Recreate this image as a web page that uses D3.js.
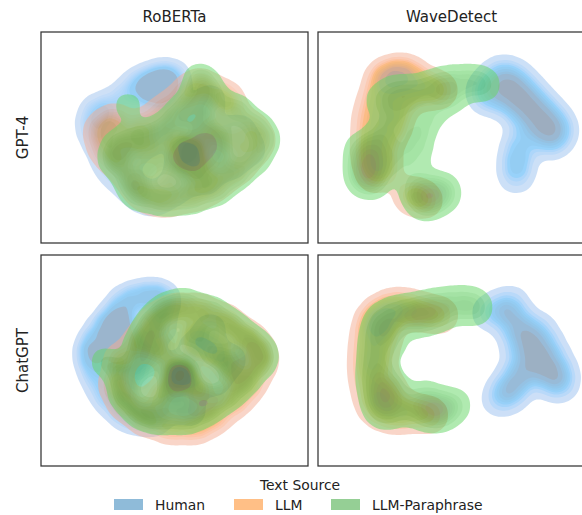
<!DOCTYPE html>
<html>
<head>
<meta charset="utf-8">
<script src="https://cdn.jsdelivr.net/npm/d3@7"></script>
<style>
  body { margin: 0; background: #fff; }
  svg { font-family: "DejaVu Sans", sans-serif; }
</style>
</head>
<body>
<div id="chart"></div>
<script>
// categories
const sources = ["Human", "LLM", "LLM-Paraphrase"];
const sourceColors = ["#1f77b4", "#ff7f0e", "#2ca02c"];
const detectors = ["RoBERTa", "WaveDetect"];
const generators = ["GPT-4", "ChatGPT"];

// 2-d embedding samples [x, y, weight]
const gpt4RobertaHuman = [[51,115],[54,131],[67,135],[84,148],[99,161],[119,168],[134,165],[109,153,2],[124,158,2],[124,143],
  [59,98],[67,78],[81,63],[97,48],[114,43],[79,113],[99,123],[109,103],[89,88],[129,118],[149,93,2],[139,73],[159,123],
  [169,143],[179,103],[199,113],[189,78],[134,53],[164,63],[209,93]];
const gpt4RobertaLLM = [[59,113],[64,93],[74,123],[79,78],[94,58],[109,45],[129,43],[154,48],[174,58],[194,73],[209,88,0.8],
  [219,103,0.8],[209,118,0.8],[189,138],[179,148],[159,158],[144,148],[124,133],[104,118],[89,103],[109,93],[134,103],[149,90,2],
  [169,113],[159,73],[189,103],[129,68]];
const gpt4RobertaPara = [[159,163],[169,148],[149,138],[134,123],[119,108],[194,133],[214,118,0.8],[224,103,0.8],[214,83,0.8],[194,68],
  [174,53],[149,45],[124,43],[99,48],[89,63],[74,83],[79,98],[99,103],[109,78],[134,83],[149,90,2.5],[164,103],[179,103],
  [174,83],[154,68],[159,123],[87,137,0.6]];

const gpt4WaveHuman = [[175,165],[185,171],[190,157,1.5],[200,147,1.5],[210,137,1.5],[220,126,1.5],[230,115,1.5],[238,105],
  [197,167],[207,157],[217,146],[227,135],[237,125],[244,113],[180,151],[190,140],[200,130],[212,118],[224,106],[232,97,0.6],
  [164,153],[170,143],[202,103],[200,91],[199,78,1.5],[198,65],[134,45,0.25]];
const gpt4WaveLLM = [[67,163,2],[82,168,2],[97,165],[57,143],[52,123],[52,103],[52,85],[57,68],[72,133],[87,143],[107,153],
  [122,153],[67,103],[77,118],[92,48],[107,43],[67,78]];
const gpt4WavePara = [[45,70,2],[52,83,2],[57,98,1.5],[67,113],[77,128],[87,143],[97,151],[112,155],[127,158,1.5],[142,161],
  [157,161],[167,158],[62,143],[77,153],[41,93],[50,61],[57,63],[72,78],[82,93],[97,113],[112,128],[132,143],[102,103,0.6],
  [100,88,0.5],[100,75,0.4],[102,48],[114,46,1.5],[127,48],[107,38],[122,55],[97,55]];

const chatRobertaHuman = [[51,111,1.5],[54,126],[64,141],[79,161],[94,169],[112,171],[124,166],[79,141,2],[84,121,2],[79,106,1.5],
  [54,91],[64,71],[79,56],[94,48],[114,46],[99,86],[109,111],[119,141],[139,91,2],[129,66],[154,116],[169,136],[174,86],
  [189,106],[149,56]];
const chatRobertaLLM = [[79,106],[74,81],[84,61],[104,46],[129,38],[154,38],[174,48],[194,64],[209,81],[221,101,0.8],[219,118,0.8],
  [204,131],[184,146],[159,156],[134,156],[114,146],[99,126],[119,116],[139,91,2],[154,126,1.5],[174,116,1.5],[159,76],
  [189,96],[119,71]];
const chatRobertaPara = [[64,104,0.7],[84,91],[84,71],[99,54],[119,48],[144,48],[164,56],[184,69],[201,84],[217,101,0.8],[221,114,0.8],
  [207,126],[189,141],[169,154],[144,161],[124,156],[109,141],[99,121],[104,101],[139,91,2.5],[124,121],[154,131],[174,111],
  [159,71],[129,71],[194,101]];

const chatWaveHuman = [[182,156],[194,153],[202,141,1.3],[210,128,1.3],[217,116,1.3],[224,104,1.3],[230,92,1.3],[237,81],
  [220,138],[228,124],[235,110],[242,96],[244,84],[192,136,0.7],[200,121],[207,106],[214,94],[197,94],[187,76,1.3],[182,66],
  [197,74],[202,86],[170,153],[193,163],[145,56,0.25]];
const chatWaveLLM = [[59,146,2],[72,156,1.5],[87,158],[102,154],[122,151],[51,131],[49,111],[49,91],[53,71],[60,56],[77,51],
  [92,54],[67,131],[62,106],[72,76],[112,51]];
const chatWavePara = [[62,146],[77,154],[92,151,1.5],[107,156,1.5],[122,160],[137,163],[152,161],[158,158],[56,126],[55,106],
  [56,86,1.5],[60,66,1.5],[67,54,1.5],[82,61],[97,56],[112,56,1.5],[127,58],[137,61],[67,136],[77,126,0.7],[67,106,0.7],
  [72,78,2],[119,53,1.5],[102,146],[122,151],[107,71]];

const panels = [
  { row: 0, col: 0, series: [gpt4RobertaHuman, gpt4RobertaLLM, gpt4RobertaPara] },
  { row: 0, col: 1, series: [gpt4WaveHuman, gpt4WaveLLM, gpt4WavePara] },
  { row: 1, col: 0, series: [chatRobertaHuman, chatRobertaLLM, chatRobertaPara] },
  { row: 1, col: 1, series: [chatWaveHuman, chatWaveLLM, chatWavePara] }
];

// ---- HUSL helpers (seaborn builds its fill colormaps in this space) ----
const M = [[3.240969941904521, -1.537383177570093, -0.498610760293],
           [-0.96924363628087, 1.87596750150772, 0.041555057407175],
           [0.055630079696993, -0.20397695888897, 1.056971514242878]];
const Minv = [[0.41239079926595, 0.35758433938387, 0.18048078840183],
              [0.21263900587151, 0.71516867876775, 0.072192315360733],
              [0.019330818715591, 0.11919477979462, 0.95053215224966]];
const refU = 0.19783000664283, refV = 0.46831999493879, kappa = 903.2962962, eps = 0.0088564516;

function maxChroma(L, H) {
  const h = H / 180 * Math.PI;
  const s1 = Math.pow(L + 16, 3) / 1560896;
  const s2 = s1 > eps ? s1 : L / kappa;
  let min = Infinity;
  M.forEach(([m1, m2, m3]) => {
    [0, 1].forEach(t => {
      const top1 = (284517 * m1 - 94839 * m3) * s2;
      const top2 = (838422 * m3 + 769860 * m2 + 731718 * m1) * L * s2 - 769860 * t * L;
      const bot = (632260 * m3 - 126452 * m2) * s2 + 126452 * t;
      const len = (top2 / bot) / (Math.sin(h) - (top1 / bot) * Math.cos(h));
      if (len >= 0) min = Math.min(min, len);
    });
  });
  return min;
}

function rgbToHusl(hex) {
  const c = d3.rgb(hex);
  const lin = [c.r, c.g, c.b].map(v => { v /= 255; return v > 0.04045 ? Math.pow((v + 0.055) / 1.055, 2.4) : v / 12.92; });
  const [X, Y, Z] = Minv.map(m => m[0] * lin[0] + m[1] * lin[1] + m[2] * lin[2]);
  const L = Y <= eps ? Y * kappa : 116 * Math.cbrt(Y) - 16;
  const dd = X + 15 * Y + 3 * Z;
  const U = 13 * L * (4 * X / dd - refU), V = 13 * L * (9 * Y / dd - refV);
  let H = Math.atan2(V, U) * 180 / Math.PI;
  if (H < 0) H += 360;
  return [H, Math.hypot(U, V) / maxChroma(L, H) * 100, L];
}

function huslToRgb(H, S, L) {
  const C = maxChroma(L, H) / 100 * S;
  const hr = H / 180 * Math.PI;
  const vu = C * Math.cos(hr) / (13 * L) + refU, vv = C * Math.sin(hr) / (13 * L) + refV;
  const Y = L <= 8 ? L / kappa : Math.pow((L + 16) / 116, 3);
  const X = -(9 * Y * vu) / ((vu - 4) * vv - vu * vv);
  const Z = (9 * Y - 15 * vv * Y - vv * X) / (3 * vv);
  const rgb = M.map(r => r[0] * X + r[1] * Y + r[2] * Z)
    .map(v => v <= 0.0031308 ? 12.92 * v : 1.055 * Math.pow(v, 1 / 2.4) - 0.055)
    .map(v => Math.round(255 * Math.max(0, Math.min(1, v))));
  return d3.rgb(...rgb).formatHex();
}

// light (low density) -> dark (high density) ramp for one hue
function cmapFrom(hex) {
  const [h, s] = rgbToHusl(hex);
  return t => {
    const j = (1 - t) * 255;
    const xx = -1 + 2 * j / 293;
    return huslToRgb(h, s * Math.cos(xx), 35 + 45 * j / 255);
  };
}
const cmaps = sourceColors.map(cmapFrom);

// planar area of a contour multipolygon (holes subtracted)
function area(geom) {
  return d3.sum(geom.coordinates, poly =>
    poly.reduce((a, ring, i) => a + (i ? -1 : 1) * Math.abs(d3.polygonArea(ring)), 0));
}

// common iso-proportion levels for all hues of one panel
// (each hue density normalised to unit mass, levels from the pooled mass)
function commonLevels(items, props) {
  const n = 90;
  const gmax = d3.max(items, it => it.max);
  const ts = d3.range(1, n + 1).map(i => gmax * i / n);
  const as = ts.map(t => d3.sum(items, it => t > it.max ? 0 : area(it.contour(t * it.total))));
  const above = ts.map((t, k) => {
    let m = t * as[k];
    for (let i = k; i < n - 1; i++) m += (as[i] + as[i + 1]) / 2 * (gmax / n);
    return m / items.length;
  });
  return props.map(q => {
    const target = 1 - q;
    if (target <= 0) return gmax;
    if (above[0] < target) return ts[0];
    let k = 0;
    while (k < n - 1 && above[k + 1] > target) k++;
    const f = (above[k] - target) / ((above[k] - above[k + 1]) || 1);
    return ts[k] + f * (ts[Math.min(k + 1, n - 1)] - ts[k]);
  });
}

// ---- layout ----
const width = 582, height = 515;
const colX = [41, 318], rowY = [32, 255];
const pw = 267, ph = 211;
const nLevels = 10, thresh = 0.05, bw = 10;
const props = d3.range(nLevels).map(i => thresh + (1 - thresh) * i / (nLevels - 1));

const svg = d3.select("#chart").append("svg")
  .attr("width", width)
  .attr("height", height);

const x = d3.scaleLinear().domain([0, 267]).range([0, pw]);
const y = d3.scaleLinear().domain([0, 211]).range([ph, 0]);
const geo = d3.geoPath();
const weight = d => d.length > 2 ? d[2] : 1;

panels.forEach((p, k) => {
  const g = svg.append("g")
    .attr("transform", `translate(${colX[p.col]},${rowY[p.row]})`);

  g.append("clipPath").attr("id", "clip" + k)
    .append("rect").attr("width", pw).attr("height", ph);

  const plot = g.append("g").attr("clip-path", `url(#clip${k})`);

  const items = p.series.map(pts => {
    const contour = d3.contourDensity()
      .x(d => x(d[0]))
      .y(d => y(d[1]))
      .weight(weight)
      .size([pw, ph])
      .cellSize(2)
      .bandwidth(bw)
      .contours(pts);
    const total = d3.sum(pts, weight);
    return { contour, total, max: contour.max / total };
  });

  const levels = commonLevels(items, props);
  const lo = levels[0], hi = levels[nLevels - 1];

  items.forEach((it, s) => {
    const layer = plot.append("g").attr("opacity", 0.5);
    d3.range(nLevels - 1).forEach(i => {
      if (levels[i] >= it.max) return;
      const mid = (levels[i] + levels[i + 1]) / 2;
      layer.append("path")
        .attr("d", geo(it.contour(levels[i] * it.total)))
        .attr("fill", cmaps[s]((mid - lo) / (hi - lo)));
    });
  });

  g.append("rect")
    .attr("width", pw)
    .attr("height", ph)
    .attr("fill", "none")
    .attr("stroke", "#333")
    .attr("stroke-width", 1.25);
});

// column titles
detectors.forEach((t, i) => {
  svg.append("text")
    .attr("x", colX[i] + pw / 2)
    .attr("y", 22)
    .attr("text-anchor", "middle")
    .attr("font-size", 15)
    .attr("fill", "#222")
    .text(t);
});

// row labels
generators.forEach((t, i) => {
  svg.append("text")
    .attr("transform", `translate(27.5,${rowY[i] + ph / 2}) rotate(-90)`)
    .attr("text-anchor", "middle")
    .attr("font-size", 15)
    .attr("fill", "#222")
    .text(t);
});

// legend
svg.append("text")
  .attr("x", 300)
  .attr("y", 490)
  .attr("text-anchor", "middle")
  .attr("font-size", 13.9)
  .attr("fill", "#222")
  .text("Text Source");

const legendX = [114, 234, 331];
sources.forEach((s, i) => {
  svg.append("rect")
    .attr("x", legendX[i])
    .attr("y", 499)
    .attr("width", 29)
    .attr("height", 11)
    .attr("fill", sourceColors[i])
    .attr("fill-opacity", 0.5);
  svg.append("text")
    .attr("x", legendX[i] + 41)
    .attr("y", 509.5)
    .attr("font-size", 13.9)
    .attr("fill", "#222")
    .text(s);
});
</script>
</body>
</html>
